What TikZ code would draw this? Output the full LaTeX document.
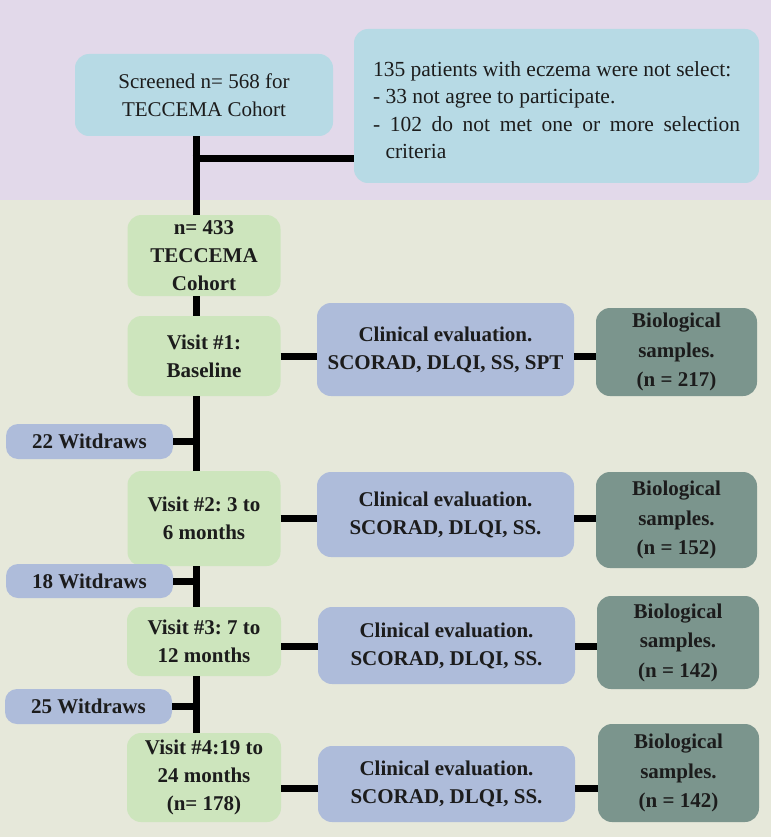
\documentclass[tikz,border=0pt]{standalone}
\usepackage{fontspec}
\setmainfont{Liberation Serif}
\frenchspacing
\definecolor{bgtop}{HTML}{E2D9EA}
\definecolor{bgbot}{HTML}{E6E8DA}
\definecolor{topblue}{HTML}{B7DAE5}
\definecolor{greenbox}{HTML}{CDE5BD}
\definecolor{lavbox}{HTML}{AEBCDA}
\definecolor{tealbox}{HTML}{7B958D}
\definecolor{txt}{HTML}{1C1C1C}
\tikzset{
  basebox/.style={rectangle, rounded corners=14pt, draw=none, inner sep=2pt, align=center, text=txt,
    font=\fontsize{21}{28}\selectfont\frenchspacing\bfseries},
  topbox/.style={basebox, fill=topblue, font=\fontsize{21}{28}\selectfont\frenchspacing},
  greenb/.style={basebox, fill=greenbox},
  lavb/.style={basebox, fill=lavbox},
  tealb/.style={basebox, fill=tealbox, font=\fontsize{21}{29.5}\selectfont\bfseries},
  wbox/.style={basebox, fill=lavbox, rounded corners=12pt},
  conn/.style={line width=7pt, draw=black},
}
\begin{document}
\begin{tikzpicture}[x=1pt,y=-1pt]
\useasboundingbox (0,0) rectangle (771,837);
\fill[bgtop] (0,0) rectangle (771,200);
\fill[bgbot] (0,200) rectangle (771,837);

% nodes
\node[topbox, minimum width=258pt, minimum height=82pt] (screened) at (204,95) {Screened n= 568 for\\TECCEMA Cohort};
\node[topbox, minimum width=405pt, minimum height=154pt] (excl) at (556.5,106) {};
\node[text=txt, inner sep=0pt] (excltext) at ([yshift=-4pt]excl.center) {%
  \parbox{367pt}{\fontsize{21.5}{27.5}\selectfont\frenchspacing
  135 patients with eczema were not select:\\
  - 33 not agree to participate.\par
  \setbox0\hbox{- }\hangindent\wd0 \hangafter=1 \noindent
  - 102 do not met one or more selection\linebreak criteria}};

\node[greenb, minimum width=153pt, minimum height=81pt] (n433) at (204,255.5) {n= 433\\TECCEMA\\Cohort};
\node[greenb, minimum width=153pt, minimum height=80pt] (v1) at (204,356) {Visit \#1:\\Baseline};
\node[lavb, minimum width=257pt, minimum height=93pt] (c1) at (445.5,349.5) {Clinical evaluation.\\SCORAD, DLQI, SS, SPT};
\node[tealb, minimum width=161pt, minimum height=88pt] (b1) at (676.5,352) {Biological\\samples.\\(n = 217)};

\node[wbox, minimum width=167pt, minimum height=35pt] (w22) at (89.5,441.5) {22 Witdraws};

\node[greenb, minimum width=153pt, minimum height=95pt] (v2) at (204,518.5) {Visit \#2: 3 to\\6 months};
\node[lavb, minimum width=257pt, minimum height=85pt] (c2) at (445.5,514.5) {Clinical evaluation.\\SCORAD, DLQI, SS.};
\node[tealb, minimum width=161pt, minimum height=96pt] (b2) at (676.5,520) {Biological\\samples.\\(n = 152)};

\node[wbox, minimum width=167pt, minimum height=34pt] (w18) at (89.5,581) {18 Witdraws};

\node[greenb, minimum width=154pt, minimum height=69pt] (v3) at (204,641.5) {Visit \#3: 7 to\\12 months};
\node[lavb, minimum width=257pt, minimum height=77pt] (c3) at (446.5,645.5) {Clinical evaluation.\\SCORAD, DLQI, SS.};
\node[tealb, minimum width=162pt, minimum height=93pt] (b3) at (678,642.5) {Biological\\samples.\\(n = 142)};

\node[wbox, minimum width=167pt, minimum height=35pt] (w25) at (88.5,706.5) {25 Witdraws};

\node[greenb, minimum width=154pt, minimum height=89pt] (v4) at (204,777.5) {Visit \#4:19 to\\24 months\\(n= 178)};
\node[lavb, minimum width=257pt, minimum height=76pt] (c4) at (446.5,784) {Clinical evaluation.\\SCORAD, DLQI, SS.};
\node[tealb, minimum width=161pt, minimum height=98pt] (b4) at (678.5,773) {Biological\\samples.\\(n = 142)};

% coordinates
\coordinate (sp) at (196,0);
\coordinate (j1) at (196,159);
\coordinate (l1) at (0,356);
\coordinate (l2) at (0,518);
\coordinate (l3) at (0,646);
\coordinate (l4) at (0,788);

% spine
\draw[conn] (screened.south -| sp) -- (n433.north -| sp);
\draw[conn] (n433.south -| sp) -- (v1.north -| sp);
\draw[conn] (v1.south -| sp) -- (v2.north -| sp);
\draw[conn] (v2.south -| sp) -- (v3.north -| sp);
\draw[conn] (v3.south -| sp) -- (v4.north -| sp);
\draw[conn] ([xshift=-3.5pt]j1) -- (j1 -| excl.west);

% witdraws
\draw[conn] (w22.east) -- (w22.east -| sp);
\draw[conn] (w18.east) -- (w18.east -| sp);
\draw[conn] (w25.east) -- (w25.east -| sp);

% horizontal rows
\draw[conn] (v1.east |- l1) -- (c1.west |- l1);
\draw[conn] (c1.east |- l1) -- (b1.west |- l1);
\draw[conn] (v2.east |- l2) -- (c2.west |- l2);
\draw[conn] (c2.east |- l2) -- (b2.west |- l2);
\draw[conn] (v3.east |- l3) -- (c3.west |- l3);
\draw[conn] (c3.east |- l3) -- (b3.west |- l3);
\draw[conn] (v4.east |- l4) -- (c4.west |- l4);
\draw[conn] (c4.east |- l4) -- (b4.west |- l4);
\end{tikzpicture}
\end{document}
